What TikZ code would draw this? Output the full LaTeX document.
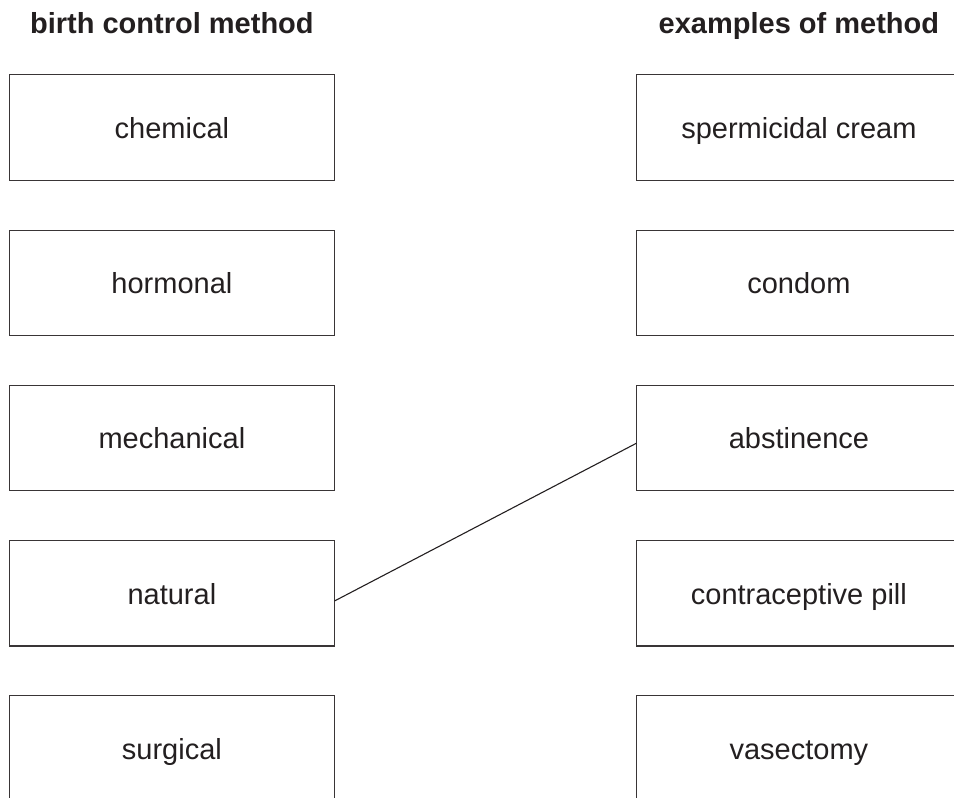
\documentclass[tikz,border=0pt]{standalone}
\usepackage{fontspec}
\setmainfont{Liberation Sans}
\definecolor{ink}{HTML}{231F20}
\begin{document}
\begin{tikzpicture}[x=1pt,y=-1pt,
  box/.style={draw=ink!90, line width=1.1pt, minimum width=325.2pt, minimum height=105.4pt,
    inner sep=0pt, outer sep=0pt, text=ink, font=\fontsize{29}{34}\selectfont,
    text height=21.6pt, text depth=0pt, anchor=center},
  head/.style={anchor=base, text=ink, font=\fontsize{29}{34}\selectfont\bfseries, inner sep=0pt},
  link/.style={draw=ink, line width=1.1pt}]
\useasboundingbox (0,0) rectangle (954,798);
\clip (0,0) rectangle (954,798);
\node[head] (hl) at (171.9,33.3) {birth control method};
\node[head] (hr) at (798.9,33.3) {examples of method};
\node[box] (chem) at (171.9,127.5) {chemical};
\node[box] (horm) at (171.9,282.8) {hormonal};
\node[box] (mech) at (171.9,438.0) {mechanical};
\node[box] (nat)  at (171.9,593.3) {natural};
\node[box] (surg) at (171.9,748.6) {surgical};
\node[box] (sperm) at (798.9,127.5) {spermicidal cream};
\node[box] (cond)  at (798.9,282.8) {condom};
\node[box] (abst)  at (798.9,438.0) {abstinence};
\node[box] (pill)  at (798.9,593.3) {contraceptive pill};
\node[box] (vas)   at (798.9,748.6) {vasectomy};
\draw[link] ([yshift=-7.7pt]nat.east) -- ([yshift=-5.3pt]abst.west);
\end{tikzpicture}
\end{document}
